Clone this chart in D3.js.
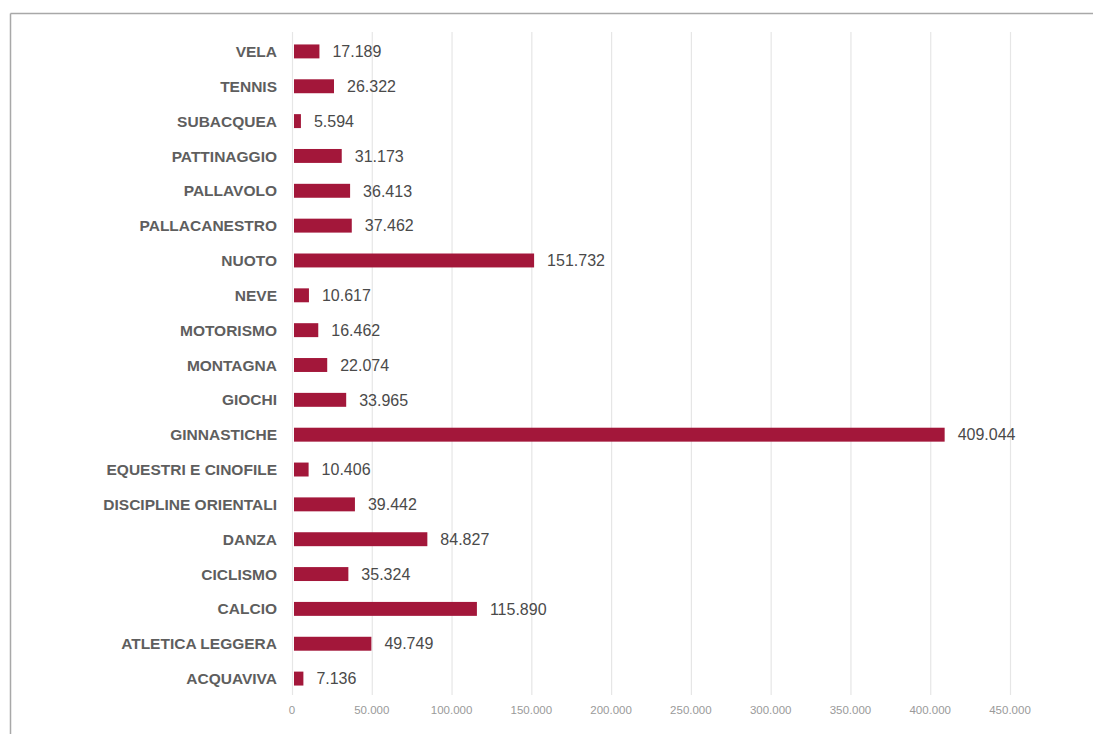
<!DOCTYPE html>
<html>
<head>
<meta charset="utf-8">
<script src="https://cdn.jsdelivr.net/npm/d3@7"></script>
<style>
  html, body { margin: 0; padding: 0; background: #fff; }
  svg { display: block; }
</style>
</head>
<body>
<div id="chart"></div>
<script>
// categories top to bottom, as in the picture
const categories = [
  'VELA', 'TENNIS', 'SUBACQUEA', 'PATTINAGGIO', 'PALLAVOLO', 'PALLACANESTRO',
  'NUOTO', 'NEVE', 'MOTORISMO', 'MONTAGNA', 'GIOCHI', 'GINNASTICHE',
  'EQUESTRI E CINOFILE', 'DISCIPLINE ORIENTALI', 'DANZA', 'CICLISMO', 'CALCIO',
  'ATLETICA LEGGERA', 'ACQUAVIVA'
];
const values = [
  17189, 26322, 5594, 31173, 36413, 37462,
  151732, 10617, 16462, 22074, 33965, 409044,
  10406, 39442, 84827, 35324, 115890,
  49749, 7136
];
const xTicks = [0, 50000, 100000, 150000, 200000, 250000, 300000, 350000, 400000, 450000];

const W = 1093, H = 734;
const fmt = v => d3.format(',')(v).replace(/,/g, '.');

const svg = d3.select('#chart').append('svg')
  .attr('width', W)
  .attr('height', H);

// frame lines (top and left)
svg.append('line')
  .attr('x1', 10.5).attr('x2', W).attr('y1', 13.5).attr('y2', 13.5)
  .attr('stroke', '#a8a8a8').attr('stroke-width', 1.5);
svg.append('line')
  .attr('x1', 10.5).attr('x2', 10.5).attr('y1', 13.5).attr('y2', H)
  .attr('stroke', '#a8a8a8').attr('stroke-width', 1.5);

const x = d3.scaleLinear().domain([0, 450000]).range([292, 1010]);
const y = d3.scaleBand().domain(categories).range([34, 696]).paddingInner(0.6).paddingOuter(0.3);

// gridlines
svg.append('g')
  .selectAll('line')
  .data(xTicks)
  .join('line')
  .attr('x1', d => x(d) + 0.5).attr('x2', d => x(d) + 0.5)
  .attr('y1', 32).attr('y2', 695)
  .attr('stroke', '#e6e6e6')
  .attr('stroke-width', 1.2);

// tick labels
svg.append('g')
  .selectAll('text')
  .data(xTicks)
  .join('text')
  .attr('x', d => x(d))
  .attr('y', 714)
  .attr('text-anchor', 'middle')
  .style('font-family', 'Liberation Sans, Arial, sans-serif')
  .style('font-size', '11.5px')
  .style('fill', '#9a9a9a')
  .text(d => fmt(d));

const rows = categories.map((c, i) => ({ cat: c, val: values[i] }));

// bars
svg.append('g')
  .selectAll('rect')
  .data(rows)
  .join('rect')
  .attr('x', x(0) + 2)
  .attr('y', d => y(d.cat))
  .attr('width', d => Math.max(1, x(d.val) - x(0) - 2))
  .attr('height', y.bandwidth())
  .attr('fill', '#a3173a');

// category labels
svg.append('g')
  .selectAll('text')
  .data(rows)
  .join('text')
  .attr('x', 277)
  .attr('y', d => y(d.cat) + y.bandwidth() / 2)
  .attr('dy', '0.36em')
  .attr('text-anchor', 'end')
  .style('font-family', 'Liberation Sans, Arial, sans-serif')
  .style('font-size', '15.5px')
  .style('font-weight', 'bold')
  .style('fill', '#5e5e5e')
  .text(d => d.cat);

// value labels
svg.append('g')
  .selectAll('text')
  .data(rows)
  .join('text')
  .attr('x', d => x(d.val) + 13)
  .attr('y', d => y(d.cat) + y.bandwidth() / 2)
  .attr('dy', '0.36em')
  .style('font-family', 'Liberation Sans, Arial, sans-serif')
  .style('font-size', '16px')
  .style('fill', '#4a4a4a')
  .text(d => fmt(d.val));
</script>
</body>
</html>
